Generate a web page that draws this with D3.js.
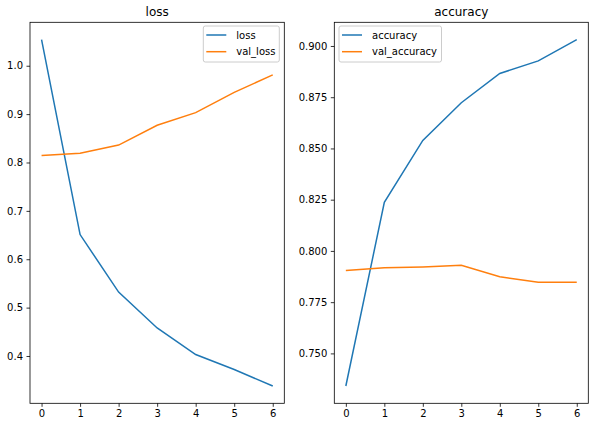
<!DOCTYPE html>
<html><head><meta charset="utf-8">
<script src="https://cdn.jsdelivr.net/npm/d3@7"></script>
<style>
body{margin:0;background:#fff;}
text{font-family:"DejaVu Sans",sans-serif;}
</style></head>
<body><svg id="c" width="595" height="427"></svg>
<script>
const epochs = [0,1,2,3,4,5,6];
const loss = [1.054,0.651,0.532,0.458,0.403,0.372,0.338];
const valLoss = [0.8145,0.819,0.836,0.877,0.903,0.945,0.981];
const accuracy = [0.7341,0.8237,0.8539,0.8723,0.8866,0.8927,0.9031];
const valAccuracy = [0.7905,0.7918,0.7922,0.7930,0.7874,0.7847,0.7847];
const lossTicks = [0.4,0.5,0.6,0.7,0.8,0.9,1.0];
const accTicks = [0.750,0.775,0.800,0.825,0.850,0.875,0.900];
const xTicks = [0,1,2,3,4,5,6];

const svg = d3.select("#c");
const C1 = "#1f77b4", C2 = "#ff7f0e";

function panel(opt){
  const {left,right,top,bottom,title,s1,s2,n1,n2,yTicks,fmt,legendX,legendW} = opt;
  const all = s1.concat(s2);
  const mn = d3.min(all), mx = d3.max(all), r = mx-mn;
  const x = d3.scaleLinear().domain([-0.3,6.3]).range([left,right]);
  const y = d3.scaleLinear().domain([mn-0.05*r, mx+0.05*r]).range([bottom,top]);
  const g = svg.append("g");
  const line = d3.line().x((d,i)=>x(epochs[i])).y(d=>y(d));
  g.append("path").datum(s1).attr("d",line).attr("fill","none").attr("stroke",C1).attr("stroke-width",1.5);
  g.append("path").datum(s2).attr("d",line).attr("fill","none").attr("stroke",C2).attr("stroke-width",1.5);
  // axes
  const xa = g.append("g").attr("transform",`translate(0,${bottom})`)
    .call(d3.axisBottom(x).tickValues(xTicks).tickSize(3.5).tickPadding(3.5).tickFormat(d3.format("d")));
  const ya = g.append("g").attr("transform",`translate(${left},0)`)
    .call(d3.axisLeft(y).tickValues(yTicks).tickSize(3.5).tickPadding(3.5).tickFormat(d3.format(fmt)));
  [xa,ya].forEach(a=>{
    a.select(".domain").remove();
    a.selectAll("line").attr("stroke","#000").attr("stroke-width",0.8);
    a.selectAll("text").attr("font-size",10).attr("fill","#000").attr("font-family","DejaVu Sans");
  });
  g.append("rect").attr("x",left).attr("y",top).attr("width",right-left).attr("height",bottom-top)
    .attr("fill","none").attr("stroke","#000").attr("stroke-width",0.8);
  g.append("text").attr("x",(left+right)/2).attr("y",top-6).attr("text-anchor","middle")
    .attr("font-size",12).attr("fill","#000").text(title);
  // legend
  const lg = g.append("g").attr("transform",`translate(${legendX},26)`);
  lg.append("rect").attr("x",0).attr("y",0).attr("width",legendW).attr("height",36).attr("rx",2)
    .attr("fill","#fff").attr("fill-opacity",0.8).attr("stroke","#ccc").attr("stroke-width",1);
  [[n1,C1],[n2,C2]].forEach(([n,c],i)=>{
    const yy = 9+i*16.7;
    lg.append("line").attr("x1",3).attr("x2",23).attr("y1",yy).attr("y2",yy).attr("stroke",c).attr("stroke-width",1.5);
    lg.append("text").attr("x",33).attr("y",yy).attr("dy","0.35em").attr("font-size",10).attr("fill","#000").text(n);
  });
}

panel({left:30,right:284.3,top:22.3,bottom:403.3,title:"loss",s1:loss,s2:valLoss,n1:"loss",n2:"val_loss",
  yTicks:lossTicks,fmt:".1f",legendX:203.3,legendW:76});
panel({left:334.3,right:588.3,top:22.3,bottom:403.3,title:"accuracy",s1:accuracy,s2:valAccuracy,n1:"accuracy",n2:"val_accuracy",
  yTicks:accTicks,fmt:".3f",legendX:339,legendW:102.5});
</script></body></html>
